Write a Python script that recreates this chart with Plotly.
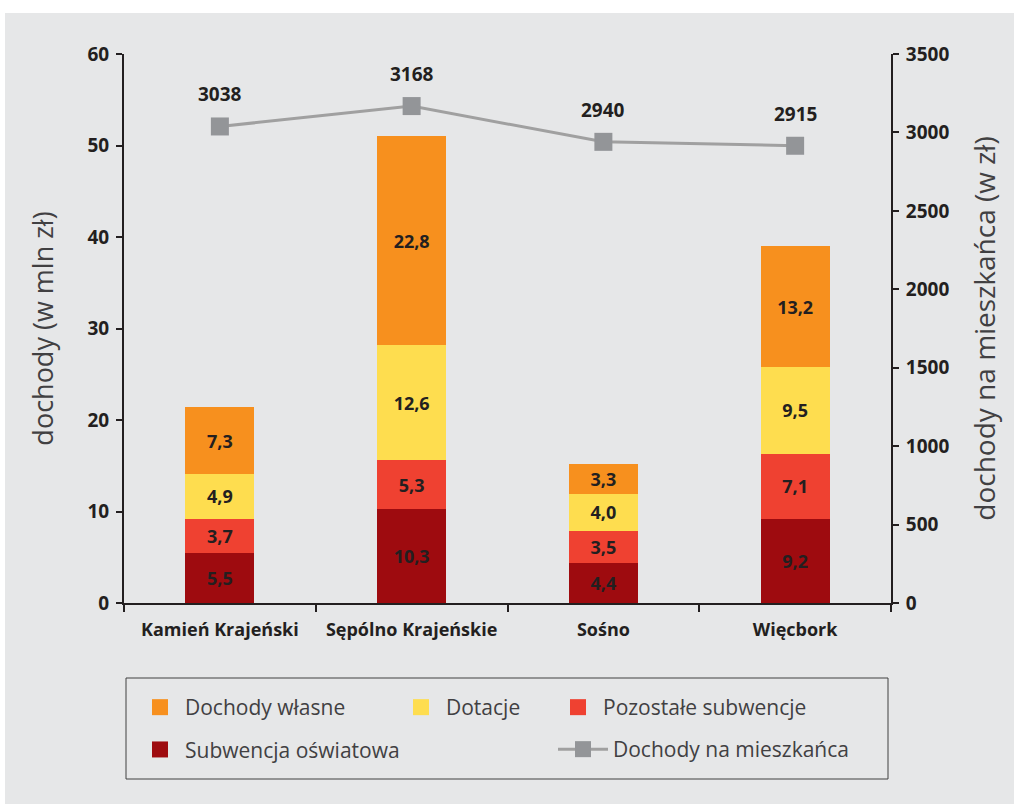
import plotly.graph_objects as go

# Gminy and their budget components (mln zł)
gminy = ["Kamień Krajeński", "Sępólno Krajeńskie", "Sośno", "Więcbork"]
subwencja_oswiatowa = [5.5, 10.3, 4.4, 9.2]
pozostale_subwencje = [3.7, 5.3, 3.5, 7.1]
dotacje = [4.9, 12.6, 4.0, 9.5]
dochody_wlasne = [7.3, 22.8, 3.3, 13.2]
# Income per inhabitant (zł)
na_mieszkanca = [3038, 3168, 2940, 2915]

TXT = "#231f20"
FONT = "Open Sans"
C_OSW, C_POZ, C_DOT, C_WL = "#9e0b0f", "#ef4131", "#fedd4f", "#f7901e"
C_LINE, C_MARK = "#a0a0a0", "#939598"

fig = go.Figure()

for name, vals, color in [
    ("Subwencja oświatowa", subwencja_oswiatowa, C_OSW),
    ("Pozostałe subwencje", pozostale_subwencje, C_POZ),
    ("Dotacje", dotacje, C_DOT),
    ("Dochody własne", dochody_wlasne, C_WL),
]:
    fig.add_trace(go.Bar(
        x=gminy, y=vals, name=name, marker=dict(color=color, line=dict(width=0)),
        width=0.36, texttemplate="%{y:.1f}", textposition="inside",
        insidetextanchor="middle", showlegend=False, legendgroup=name,
        textfont=dict(family=FONT, size=18, color=TXT, weight="bold"),
    ))

fig.add_trace(go.Scatter(
    x=gminy, y=na_mieszkanca, name="Dochody na mieszkańca", yaxis="y2",
    mode="lines+markers", line=dict(color=C_LINE, width=3),
    marker=dict(symbol="square", size=18, color=C_MARK),
    legend="legend4",
))

# legend keys for the stacked components (larger square swatches)
for name, color, leg, rank in [
    ("Dochody własne", C_WL, "legend", 1),
    ("Subwencja oświatowa", C_OSW, "legend", 2),
    ("Dotacje", C_DOT, "legend2", 1),
    ("Pozostałe subwencje", C_POZ, "legend3", 1),
]:
    fig.add_trace(go.Scatter(
        x=[None], y=[None], name=name, mode="markers", legendgroup=name,
        marker=dict(symbol="square", size=18, color=color),
        legend=leg, legendrank=rank,
    ))

for g, v in zip(gminy, na_mieszkanca):
    fig.add_annotation(x=g, y=v, yref="y2", text=str(v), showarrow=False,
                       yshift=32, font=dict(family=FONT, size=19, color=TXT, weight="bold"))

PW, PH = 767, 549  # plot area size in px


def px_x(p):
    return (p - 124) / PW


def px_y(p):
    return (603 - p) / PH


# grey panel behind the whole chart
fig.add_shape(type="rect", xref="paper", yref="paper", layer="below",
              x0=px_x(5), x1=px_x(1014), y0=px_y(804), y1=px_y(13),
              fillcolor="#e6e7e8", line=dict(width=0))
# legend frame
fig.add_shape(type="rect", xref="paper", yref="paper",
              x0=px_x(126), x1=px_x(888), y0=px_y(779), y1=px_y(678),
              line=dict(color="#404040", width=1), fillcolor="rgba(0,0,0,0)")

legend_common = dict(orientation="v", yanchor="top", xanchor="left", bgcolor="rgba(0,0,0,0)",
                     borderwidth=0, tracegroupgap=12, itemclick=False, itemsizing="trace",
                     font=dict(family=FONT, size=21, color="#414042"), traceorder="grouped")

fig.update_layout(
    width=1014, height=804,
    margin=dict(l=124, r=123, t=54, b=201),
    paper_bgcolor="white", plot_bgcolor="rgba(0,0,0,0)",
    separators=", ",
    barmode="stack",
    showlegend=True,
    legend=dict(x=px_x(135), y=px_y(687), itemwidth=40, **legend_common),
    legend2=dict(x=px_x(396), y=px_y(687), itemwidth=40, **legend_common),
    legend3=dict(x=px_x(553), y=px_y(687), itemwidth=40, **legend_common),
    legend4=dict(x=px_x(553), y=px_y(729), itemwidth=50, **legend_common),
    xaxis=dict(
        showline=True, linecolor=TXT, linewidth=2, ticks="outside", tickson="boundaries",
        ticklen=7, tickwidth=2, tickcolor=TXT, showgrid=False, ticklabelstandoff=9,
        tickfont=dict(family=FONT, size=18, color=TXT, weight="bold"),
    ),
    yaxis=dict(
        range=[0, 60], dtick=10, showline=True, linecolor=TXT, linewidth=2,
        ticks="outside", ticklen=6, tickwidth=2, tickcolor=TXT, showgrid=False, zeroline=False,
        ticklabelstandoff=3,
        tickfont=dict(family=FONT, size=19, color=TXT, weight="bold"),
        title=dict(text="dochody (w mln zł)", standoff=26,
                   font=dict(family=FONT, size=27, color="#414042")),
    ),
    yaxis2=dict(
        range=[0, 3500], dtick=500, overlaying="y", side="right", showline=True,
        linecolor=TXT, linewidth=2, ticks="outside", ticklen=6, tickwidth=2, tickcolor=TXT,
        showgrid=False, zeroline=False, ticklabelstandoff=3,
        tickfont=dict(family=FONT, size=19, color=TXT, weight="bold"),
        title=dict(text="dochody na mieszkańca (w zł)", standoff=27,
                   font=dict(family=FONT, size=28, color="#414042")),
    ),
)

fig.write_html("out.html")
